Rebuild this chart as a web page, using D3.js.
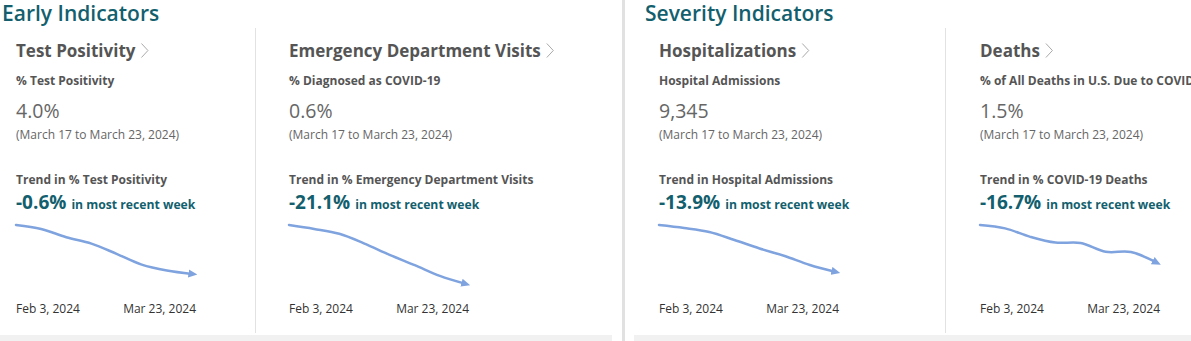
<!DOCTYPE html>
<html>
<head>
<meta charset="utf-8">
<script src="https://cdn.jsdelivr.net/npm/d3@7"></script>
<style>
  html, body { margin: 0; padding: 0; background: #fff; }
  svg { display: block; font-family: "Open Sans", "DejaVu Sans", sans-serif; }
</style>
</head>
<body>
<svg id="chart" width="1191" height="341"></svg>
<script>
// weekly reporting periods shown in each sparkline
var weeks = ["2024-02-03", "2024-02-10", "2024-02-17", "2024-02-24",
             "2024-03-02", "2024-03-09", "2024-03-16", "2024-03-23"];

var sectionTitles = ["Early Indicators", "Severity Indicators"];
var panelTitles = ["Test Positivity", "Emergency Department Visits", "Hospitalizations", "Deaths"];
var metricLabels = ["% Test Positivity", "% Diagnosed as COVID-19", "Hospital Admissions", "% of All Deaths in U.S. Due to COVID-19"];
var trendLabels = ["Trend in % Test Positivity", "Trend in % Emergency Department Visits", "Trend in Hospital Admissions", "Trend in % COVID-19 Deaths"];
var periodLabel = "(March 17 to March 23, 2024)";
var weeklyChange = [-0.6, -21.1, -13.9, -16.7];

// weekly series, oldest first
var testPositivity = [9.0, 8.6, 7.75, 7.1, 6.05, 4.95, 4.35, 4.0];
var edVisits = [1.8, 1.72, 1.62, 1.42, 1.19, 0.98, 0.76, 0.6];
var hospitalAdmissions = [19900, 19230, 18320, 16510, 14600, 12880, 10854, 9345];
var covidDeaths = [2.6, 2.5, 2.25, 2.08, 2.07, 1.81, 1.8, 1.5];

var series = [testPositivity, edVisits, hospitalAdmissions, covidDeaths];

// plain hyphen for negatives, as the dashboard prints them
var locale = d3.formatLocale({decimal: ".", thousands: ",", grouping: [3], currency: ["$", ""], minus: "-"});
var valueFormats = [locale.format(".1f"), locale.format(".1f"), locale.format(","), locale.format(".1f")];
var valueUnits = ["%", "%", "", "%"];
var changeFormat = locale.format(".1f");

var teal = "#135f6e",
    titleGray = "#555",
    textGray = "#666",
    lineBlue = "#7fa3de";

var parseDate = d3.timeParse("%Y-%m-%d"),
    tickFormat = d3.timeFormat("%b %-d, %Y"),
    dates = weeks.map(parseDate);

var svg = d3.select("#chart");

// page chrome: group separator and footer strips
svg.append("rect").attr("x", 622).attr("y", 0).attr("width", 3).attr("height", 341).attr("fill", "#e1e1e1");
svg.append("rect").attr("x", 0).attr("y", 335).attr("width", 612).attr("height", 6).attr("fill", "#f1f1f1");
svg.append("rect").attr("x", 634).attr("y", 335).attr("width", 557).attr("height", 6).attr("fill", "#f1f1f1");
[255, 945].forEach(function (x) {
    svg.append("line")
        .attr("x1", x + 0.5).attr("x2", x + 0.5)
        .attr("y1", 28).attr("y2", 333)
        .attr("stroke", "#e2e2e2");
});

svg.selectAll("text.section")
    .data(sectionTitles)
    .enter().append("text")
    .attr("class", "section")
    .attr("x", function (d, i) { return i ? 645 : 2; })
    .attr("y", 21)
    .attr("fill", teal)
    .attr("font-size", 21)
    .attr("font-weight", 600)
    .text(function (d) { return d; });

svg.append("defs").append("marker")
    .attr("id", "arrow")
    .attr("viewBox", "0 -5 10 10")
    .attr("refX", 4)
    .attr("refY", 0)
    .attr("markerWidth", 9)
    .attr("markerHeight", 9)
    .attr("markerUnits", "userSpaceOnUse")
    .attr("orient", "auto")
    .append("path")
    .attr("d", "M0,-4.5L10,0L0,4.5Z")
    .attr("fill", lineBlue);

var panelX = [16, 289, 659, 980],
    sparkWidth = 176,
    sparkTop = 225,
    sparkDepth = 88;

panelTitles.forEach(function (title, i) {
    var g = svg.append("g").attr("transform", "translate(" + panelX[i] + ",0)"),
        values = series[i],
        last = values[values.length - 1];

    var heading = g.append("text")
        .attr("x", 0).attr("y", 57)
        .attr("fill", titleGray)
        .attr("font-size", 17)
        .attr("font-weight", 700)
        .text(title);
    var w = heading.node().getComputedTextLength();
    g.append("path")
        .attr("d", "M" + (w + 6) + ",43.5L" + (w + 12.5) + ",50.5L" + (w + 6) + ",57.5")
        .attr("fill", "none")
        .attr("stroke", "#aaa")
        .attr("stroke-width", 1);

    g.append("text")
        .attr("x", 0).attr("y", 85)
        .attr("fill", titleGray)
        .attr("font-size", 12)
        .attr("font-weight", 700)
        .text(metricLabels[i]);

    g.append("text")
        .attr("x", 0).attr("y", 118)
        .attr("fill", textGray)
        .attr("font-size", 19.5)
        .text(valueFormats[i](last) + valueUnits[i]);

    g.append("text")
        .attr("x", 0).attr("y", 139)
        .attr("fill", textGray)
        .attr("font-size", 12)
        .text(periodLabel);

    g.append("text")
        .attr("x", 0).attr("y", 184)
        .attr("fill", titleGray)
        .attr("font-size", 12)
        .attr("font-weight", 700)
        .text(trendLabels[i]);

    var change = g.append("text")
        .attr("x", 0).attr("y", 209)
        .attr("fill", teal)
        .attr("font-weight", 700);
    change.append("tspan")
        .attr("font-size", 19)
        .text(changeFormat(weeklyChange[i]) + "%");
    change.append("tspan")
        .attr("dx", 5)
        .attr("font-size", 12.2)
        .text("in most recent week");

    var x = d3.scaleTime().domain(d3.extent(dates)).range([0, sparkWidth]),
        y = d3.scaleLinear().domain([0, d3.max(values)]).range([sparkTop + sparkDepth, sparkTop]);

    var line = d3.line()
        .x(function (d, j) { return x(dates[j]); })
        .y(function (d) { return y(d); })
        .curve(d3.curveCatmullRom.alpha(0.5));

    g.append("path")
        .datum(values)
        .attr("d", line)
        .attr("fill", "none")
        .attr("stroke", lineBlue)
        .attr("stroke-width", 2.5)
        .attr("stroke-linecap", "round")
        .attr("marker-end", "url(#arrow)");

    var ends = x.domain();
    g.selectAll("text.tick")
        .data(ends)
        .enter().append("text")
        .attr("class", "tick")
        .attr("x", function (d, j) { return j ? x(d) + 4 : x(d); })
        .attr("y", 313)
        .attr("text-anchor", function (d, j) { return j ? "end" : "start"; })
        .attr("fill", "#333")
        .attr("font-size", 12)
        .text(tickFormat);
});
</script>
</body>
</html>
